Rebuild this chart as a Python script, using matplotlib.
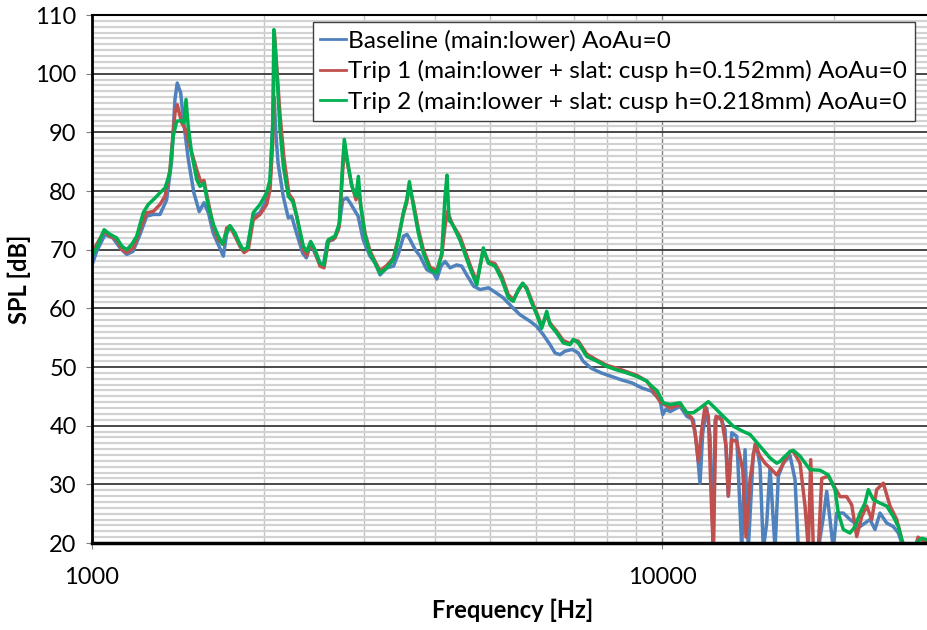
import matplotlib
matplotlib.use("Agg")
import matplotlib.pyplot as plt
from matplotlib.ticker import FixedLocator, MultipleLocator, NullFormatter

# ---- data (frequency in Hz, SPL in dB) ----
base_f = [1000, 1019, 1054, 1088, 1120, 1150, 1180, 1214, 1247, 1280, 1316, 1352, 1380,
          1398, 1411, 1431, 1446, 1476, 1509, 1542, 1572, 1600, 1632, 1665, 1700, 1722,
          1746, 1781, 1818, 1847, 1872, 1917, 1971, 2024, 2052, 2074, 2087, 2101, 2120,
          2165, 2210, 2240, 2285, 2342, 2377, 2420, 2460, 2512, 2545, 2587, 2650, 2705,
          2754, 2800, 2836, 2873, 2930, 2990, 3074, 3139, 3201, 3290, 3380, 3450, 3520,
          3570, 3614, 3690, 3763, 3866, 3973, 4027, 4095, 4163, 4247, 4362, 4452, 4543,
          4670, 4794, 4960, 5122, 5264, 5448, 5636, 5868, 6030, 6190, 6361, 6490, 6623,
          6758, 6960, 7130, 7270, 7510, 7820, 8150, 8490, 8850, 9230, 9580, 9920, 10030,
          10160, 10330, 10755, 11050, 11349, 11505, 11659, 11787, 11979, 12140, 12303,
          12388, 12641, 12899, 13071, 13252, 13523, 13799, 13984, 14170, 14460, 14660,
          14857, 15056, 15264, 15469, 15785, 15998, 16323, 16771, 17113, 17343, 17890,
          18328, 18801, 19161, 19449, 19710, 19974, 20250, 20798, 21369, 22250, 23166,
          23638, 24121, 24782, 25455, 25976, 26335, 26688]
base_db = [67.4, 69.7, 72.6, 72.0, 70.3, 69.2, 69.7, 72.6, 75.7, 76.0, 76.0, 78.5, 85.3,
           95.6, 98.4, 96.7, 92.2, 85.3, 79.7, 76.5, 78.0, 76.3, 72.8, 70.9, 68.9, 72.6,
           74.0, 72.8, 70.6, 69.7, 70.3, 75.7, 76.3, 78.5, 80.8, 91.0, 96.0, 90.0, 84.8,
           79.1, 75.4, 75.7, 72.8, 69.4, 68.6, 71.1, 69.4, 67.4, 67.2, 71.4, 71.7, 73.4,
           78.5, 78.8, 78.0, 77.1, 75.7, 71.7, 68.9, 67.7, 65.7, 66.9, 67.2, 69.4, 72.3,
           72.6, 71.7, 70.0, 68.9, 66.6, 66.0, 65.0, 67.2, 68.0, 66.9, 67.4, 67.2, 65.7,
           63.8, 63.2, 63.5, 62.6, 61.8, 60.3, 58.9, 57.8, 56.9, 55.5, 53.8, 52.4, 52.1,
           52.7, 53.0, 52.4, 51.0, 49.8, 49.0, 48.4, 47.8, 47.3, 46.4, 45.9, 44.4, 41.9,
           42.8, 42.4, 43.3, 41.6, 41.0, 36.5, 30.2, 38.8, 43.0, 38.2, 19.0,
           41.0, 41.6, 39.3, 28.0, 38.8, 38.2, 19.0, 35.9, 19.0, 35.3, 36.5,
           33.1, 19.0, 23.4, 32.8, 19.0, 31.4, 33.6, 34.9, 30.8, 19.0, 19.0,
           19.0, 19.0, 24.0, 28.8, 24.0, 19.0, 25.1, 25.1, 24.0, 22.8, 24.0,
           22.3, 25.1, 23.4, 22.8, 21.7, 20.0, 19.0]

trip1_f = [1000, 1019, 1050, 1076, 1105, 1128, 1151, 1182, 1214, 1247, 1281, 1316, 1343,
           1370, 1398, 1411, 1437, 1456, 1485, 1527, 1551, 1572, 1600, 1633, 1666, 1700,
           1723, 1746, 1782, 1818, 1848, 1880, 1918, 1971, 2025, 2052, 2075, 2090, 2110,
           2137, 2172, 2216, 2253, 2289, 2348, 2381, 2419, 2461, 2512, 2553, 2598, 2669,
           2715, 2753, 2771, 2805, 2856, 2905, 2933, 2961, 3013, 3074, 3137, 3201, 3289,
           3378, 3447, 3516, 3565, 3604, 3663, 3737, 3813, 3918, 4025, 4107, 4162, 4205,
           4280, 4422, 4605, 4731, 4858, 4958, 5094, 5234, 5375, 5484, 5597, 5698, 5790,
           5908, 6029, 6151, 6276, 6361, 6535, 6712, 6897, 6989, 7132, 7378, 7682, 7999,
           8328, 8672, 9025, 9401, 9527, 9920, 10330, 10755, 11050, 11276, 11427, 11580,
           11740, 11897, 12057, 12224, 12303, 12437, 12728, 12951, 13071, 13252, 13523,
           13855, 14040, 14269, 14560, 14857, 15160, 15469, 15893, 16107, 16323, 16771,
           16996, 17462, 17818, 18057, 18232, 18425, 18801, 19061, 19576, 20112, 20523,
           21085, 21516, 21955, 22403, 22860, 23326, 23801, 24444, 25119, 25808, 26335,
           26688, 27786, 28125, 28583, 29290]
trip1_db = [69.4, 70.9, 73.1, 72.3, 71.7, 70.0, 69.5, 70.3, 73.4, 76.3, 76.5, 77.7, 79.1,
            83.6, 93.3, 94.7, 91.6, 90.7, 87.6, 83.6, 81.6, 81.8, 78.0, 74.0, 71.7, 70.9,
            73.7, 74.0, 72.3, 70.6, 69.5, 70.0, 75.1, 76.0, 77.7, 80.2, 88.2, 106.8, 101.0,
            93.0, 85.5, 79.5, 78.5, 75.5, 70.0, 69.0, 71.2, 69.7, 67.2, 66.9, 71.4, 72.0,
            74.0, 83.5, 87.5, 84.8, 81.0, 78.5, 80.5, 77.5, 72.8, 69.8, 68.0, 66.4, 67.3,
            68.6, 72.0, 76.0, 78.0, 80.8, 78.0, 73.5, 70.0, 67.0, 66.5, 69.0, 74.0, 76.5,
            74.5, 72.2, 67.4, 64.5, 69.8, 68.0, 67.6, 65.5, 62.3, 61.5, 63.0, 64.2, 63.5,
            61.3, 59.2, 57.0, 58.8, 57.5, 56.1, 54.5, 54.0, 54.6, 54.4, 52.2, 51.2, 50.3,
            49.8, 49.2, 48.6, 47.6, 46.8, 44.1, 43.0, 43.6, 42.2, 41.3, 38.8, 33.9,
            39.3, 43.3, 41.6, 25.1, 19.0, 41.6, 41.0, 36.5, 28.0, 37.6, 37.3,
            32.5, 21.0, 30.8, 36.8, 34.8, 33.6, 32.8, 31.6, 32.5, 33.6, 35.6,
            35.6, 33.6, 26.3, 19.0, 34.2, 19.0, 19.0, 31.0, 31.4, 29.4, 27.9,
            27.9, 26.5, 21.1, 24.5, 26.3, 24.0, 29.1, 30.2, 26.3, 24.0, 20.6,
            19.0, 19.0, 21.0, 20.5, 20.3]

trip2_f = [1000, 1019, 1050, 1076, 1105, 1128, 1151, 1174, 1198, 1230, 1255, 1290, 1316,
           1343, 1370, 1388, 1408, 1437, 1450, 1462, 1475, 1495, 1527, 1547, 1572, 1600,
           1633, 1666, 1695, 1718, 1746, 1782, 1818, 1842, 1873, 1918, 1971, 2025, 2052,
           2075, 2085, 2108, 2137, 2166, 2210, 2250, 2286, 2348, 2381, 2419, 2461, 2512,
           2553, 2598, 2669, 2715, 2753, 2771, 2805, 2856, 2905, 2933, 2961, 3013, 3074,
           3137, 3201, 3289, 3378, 3447, 3516, 3565, 3604, 3663, 3737, 3813, 3918, 4025,
           4107, 4162, 4196, 4230, 4280, 4422, 4605, 4731, 4858, 4958, 5094, 5234, 5375,
           5484, 5597, 5698, 5790, 5908, 6029, 6151, 6276, 6361, 6535, 6712, 6897, 6989,
           7132, 7378, 7682, 7999, 8328, 8672, 9025, 9401, 9527, 9810, 10050, 10330, 10755,
           11050, 11349, 11659, 12057, 12388, 12810, 13337, 13887, 14269, 14857, 15469,
           15893, 16107, 16323, 16771, 16996, 17462, 18181, 18930, 19576, 20112, 20382,
           20798, 21369, 21805, 22250, 22704, 23009, 23476, 24121, 24782, 25455, 25976,
           26335, 26688, 27786, 28125, 28583, 29290]
trip2_db = [68.9, 70.3, 73.4, 72.6, 72.0, 70.6, 70.0, 70.9, 72.3, 76.3, 77.7, 78.8, 79.7,
            80.5, 83.1, 89.3, 91.9, 92.0, 91.6, 95.6, 91.0, 86.5, 81.9, 80.8, 81.3, 77.4,
            74.3, 72.3, 70.9, 72.8, 74.1, 72.8, 70.9, 70.0, 70.3, 76.3, 77.7, 79.7, 81.9,
            91.0, 107.5, 100.7, 90.5, 84.2, 79.1, 78.2, 75.7, 70.6, 69.7, 71.4, 70.0, 67.7,
            67.4, 71.7, 72.3, 74.5, 84.8, 88.8, 85.3, 80.8, 79.1, 82.5, 77.4, 72.3, 69.4,
            67.7, 66.0, 66.9, 68.3, 71.7, 76.3, 78.5, 81.6, 77.4, 72.8, 69.4, 66.6, 66.0,
            69.4, 79.1, 82.7, 75.0, 74.5, 71.6, 66.8, 64.0, 70.3, 67.7, 67.2, 64.9, 61.8,
            61.2, 63.2, 64.3, 63.2, 60.9, 58.9, 56.6, 59.5, 57.2, 55.8, 54.1, 53.8, 54.7,
            54.1, 51.8, 51.0, 50.1, 49.5, 49.0, 48.4, 47.6, 47.0, 45.9, 43.9, 43.6, 43.9,
            42.2, 42.2, 43.0, 44.1, 43.0, 41.6, 39.9, 39.0, 38.5, 36.5, 34.5,
            33.6, 33.9, 34.5, 35.6, 35.8, 34.8, 32.5, 32.4, 31.6, 29.1, 25.1,
            22.3, 21.7, 22.8, 25.1, 26.8, 29.1, 27.4, 26.8, 26.3, 24.5, 22.8,
            20.6, 19.0, 19.0, 20.3, 20.8, 20.5]

series_labels = ["Baseline (main:lower) AoAu=0",
                 "Trip 1 (main:lower + slat: cusp h=0.152mm) AoAu=0",
                 "Trip 2 (main:lower + slat: cusp h=0.218mm) AoAu=0"]
series_colors = ["#4F81BD", "#C0504D", "#00B050"]

plt.rcParams['font.family'] = ['Lato', 'DejaVu Sans']

fig = plt.figure(figsize=(9.28, 6.3), dpi=100)
ax = fig.add_axes([92 / 928, 87 / 630, 842 / 928, 528 / 630])

for fx, dbx, lab, col in zip([base_f, trip1_f, trip2_f], [base_db, trip1_db, trip2_db],
                             series_labels, series_colors):
    ax.plot(fx, dbx, color=col, lw=2.5, label=lab, solid_joinstyle='round')

ax.set_xscale('log')
ax.set_xlim(1000, 30000)
ax.set_ylim(20, 110)

ax.xaxis.set_major_locator(FixedLocator([1000, 10000]))
ax.xaxis.set_minor_locator(FixedLocator([2000, 3000, 4000, 5000, 6000, 7000, 8000, 9000, 20000]))
ax.xaxis.set_minor_formatter(NullFormatter())
ax.set_xticklabels(["1000", "10000"])
ax.yaxis.set_major_locator(MultipleLocator(10))
ax.yaxis.set_minor_locator(MultipleLocator(1))

ax.set_axisbelow(True)
ax.yaxis.grid(True, which='minor', color='#D2D2D2', lw=1.6)
ax.yaxis.grid(True, which='major', color='#3A3A3A', lw=1.3)
ax.xaxis.grid(True, which='minor', color='#C4C4C4', lw=1.0)
ax.xaxis.grid(True, which='major', color='#7F7F7F', lw=1.0)

for side in ['left', 'bottom', 'top', 'right']:
    ax.spines[side].set_color('black')
ax.spines['left'].set_linewidth(2.0)
ax.spines['bottom'].set_linewidth(2.5)
ax.spines['top'].set_linewidth(1.5)

ax.tick_params(axis='both', which='minor', length=0)
ax.tick_params(axis='y', which='major', length=4, color='#808080', labelsize=17, pad=7)
ax.tick_params(axis='x', which='major', length=4, color='#808080', labelsize=17, pad=13)

ax.set_xlabel("Frequency [Hz]", fontsize=17, fontweight='bold', labelpad=8)
ax.set_ylabel("SPL [dB]", fontsize=17, fontweight='bold')
ax.yaxis.set_label_coords(-0.072, 0.5)

leg = ax.legend(loc='upper left', bbox_to_anchor=(0.262, 0.987), borderaxespad=0,
                fontsize=17.6, frameon=True, fancybox=False, handlelength=1.05,
                handletextpad=0.08, labelspacing=0.36, borderpad=0.32)
leg.get_frame().set_edgecolor('#404040')
leg.get_frame().set_linewidth(1.0)
leg.get_frame().set_alpha(1)
for line in leg.get_lines():
    line.set_linewidth(2.0)

fig.savefig("out.png", dpi=100)
